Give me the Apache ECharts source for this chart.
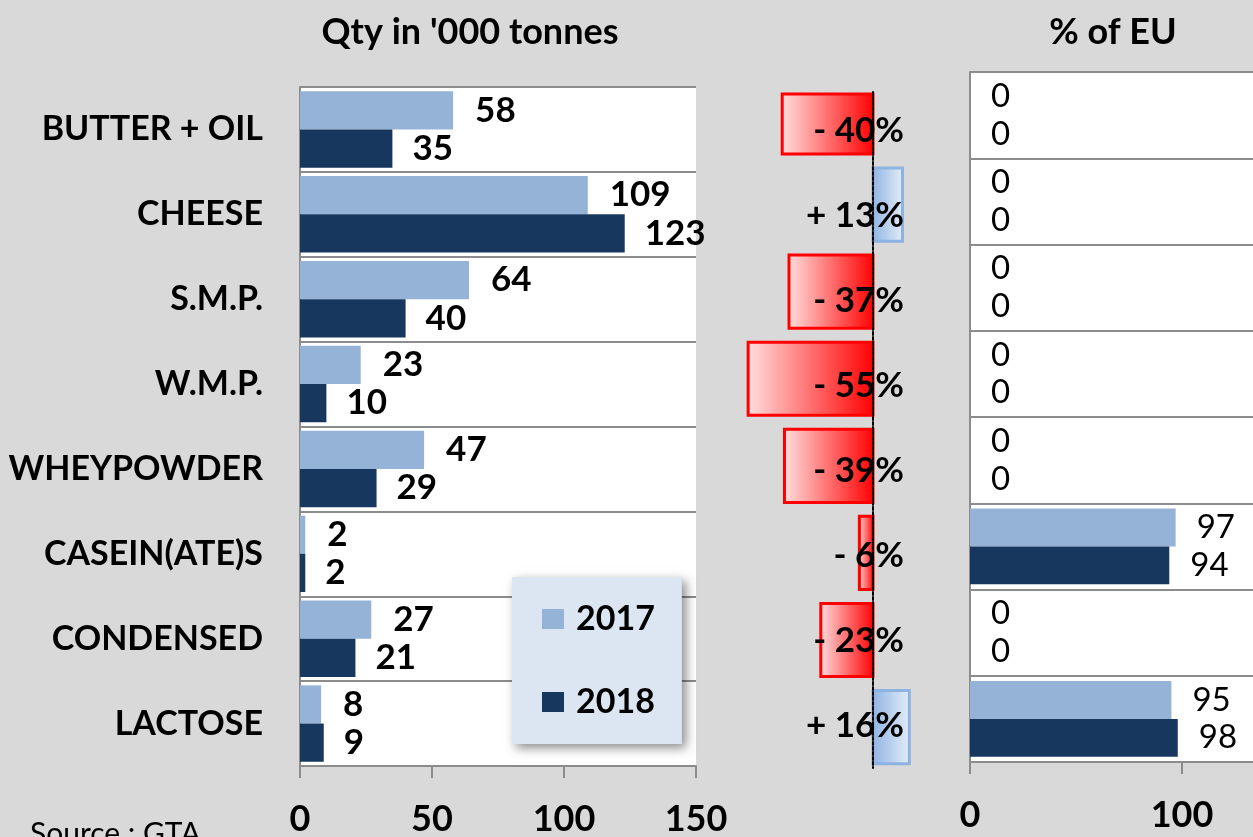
<!DOCTYPE html>
<html>
<head>
<meta charset="utf-8">
<script src="https://cdn.jsdelivr.net/npm/echarts@6/dist/echarts.min.js"></script>
<style>
html,body{margin:0;padding:0;background:#D9D9D9;}
#c{width:1253px;height:837px;}
</style>
</head>
<body>
<div id="c"></div>
<script>
const categories = ['BUTTER + OIL','CHEESE','S.M.P.','W.M.P.','WHEYPOWDER','CASEIN(ATE)S','CONDENSED','LACTOSE'];
const qty2017 = [58,109,64,23,47,2,27,8];
const qty2018 = [35,123,40,10,29,2,21,9];
const pctChange = [-40,13,-37,-55,-39,-6,-23,16];
const euShare2017 = [0,0,0,0,0,97,0,95];
const euShare2018 = [0,0,0,0,0,94,0,98];
const qtyTicks = [0,50,100,150];
const euTicks = [0,100];

const FONT = "Lato,'Open Sans',sans-serif";
const C17 = '#95B3D7', C18 = '#17375E', GRID = '#8C8C8C';

const chart = echarts.init(document.getElementById('c'));

function renderPctBar(params, api) {
  const idx = api.value(1), v = api.value(0);
  const p0 = api.coord([0, idx]), p1 = api.coord([v, idx]);
  const h = api.size([0, 1])[1] * 0.84;
  const cs = params.coordSys;
  const rect = echarts.graphic.clipRectByRect(
    {x: Math.min(p0[0], p1[0]), y: p0[1] - h / 2, width: Math.abs(p1[0] - p0[0]), height: h},
    {x: cs.x, y: cs.y + 2, width: cs.width, height: cs.height});
  if (!rect) return null;
  const neg = v < 0;
  const fill = neg
    ? new echarts.graphic.LinearGradient(0,0,1,0,[{offset:0,color:'#FFE0E0'},{offset:1,color:'#FF0000'}])
    : new echarts.graphic.LinearGradient(0,0,1,0,[{offset:0,color:'#8DB3E2'},{offset:1,color:'#E6EEF8'}]);
  return {type:'rect', shape: rect, style:{fill: fill, stroke: neg ? '#FF0000' : '#8DB3E2', lineWidth: 3}};
}

function renderPctLabel(params, api) {
  const idx = api.value(1), v = api.value(0);
  const p0 = api.coord([0, idx]);
  return {type:'text', x: p0[0] + 31, y: p0[1] + 1, z2: 5, style:{
    text: (v < 0 ? '- ' : '+ ') + Math.abs(v) + '%', align:'right', verticalAlign:'middle',
    font: 'bold 35px ' + FONT, fill:'#000'}};
}

const option = {
  backgroundColor: '#D9D9D9',
  animation: false,
  textStyle: {fontFamily: FONT},
  title: [
    {text: "Qty in '000 tonnes", left: 465, top: 9, textAlign: 'center',
     textStyle: {fontSize: 36, fontWeight: 'bold', color: '#000', fontFamily: FONT}},
    {text: '% of EU', left: 1108, top: 9, textAlign: 'center',
     textStyle: {fontSize: 36, fontWeight: 'bold', color: '#000', fontFamily: FONT}}
  ],
  legend: {
    data: ['2017','2018'], orient: 'vertical', left: 512, top: 577,
    itemWidth: 22, itemHeight: 20, itemGap: 49, icon: 'rect',
    padding: [25, 27, 25, 30],
    backgroundColor: '#DCE6F2', shadowBlur: 10, shadowColor: 'rgba(0,0,0,0.45)', shadowOffsetX: 4, shadowOffsetY: 4,
    textStyle: {fontSize: 34, fontWeight: 'bold', color: '#000', fontFamily: FONT, padding: [0,0,0,7]}
  },
  grid: [
    {left: 300, width: 396, top: 87, height: 680, show: true, backgroundColor: '#fff', borderWidth: 0},
    {left: 736.8, width: 181.6, top: 92, height: 676, show: false},
    {left: 970, width: 424, top: 72, height: 690, show: true, backgroundColor: '#fff', borderWidth: 0,
     outerBoundsMode: 'none'},
    {left: 736.8, width: 181.6, top: 87, height: 680, show: false}
  ],
  xAxis: [
    {gridIndex: 0, type: 'value', min: 0, max: 150, interval: 50,
     axisLine: {show: true, lineStyle: {color: GRID, width: 2}},
     axisTick: {show: true, length: 12, lineStyle: {color: GRID, width: 2}},
     splitLine: {show: false},
     axisLabel: {margin: 35, fontSize: 36, fontWeight: 'bold', color: '#000', fontFamily: FONT,
       formatter: v => qtyTicks.includes(v) ? String(v) : ''}},
    {gridIndex: 1, type: 'value', min: -60, max: 20, show: false},
    {gridIndex: 2, type: 'value', min: 0, max: 200, interval: 100,
     axisLine: {show: true, lineStyle: {color: GRID, width: 2}},
     axisTick: {show: true, length: 12, lineStyle: {color: GRID, width: 2}},
     splitLine: {show: false},
     axisLabel: {margin: 35, fontSize: 36, fontWeight: 'bold', color: '#000', fontFamily: FONT,
       formatter: v => euTicks.includes(v) ? String(v) : ''}},
    {gridIndex: 3, type: 'value', min: -60, max: 20, show: false}
  ],
  yAxis: [
    {gridIndex: 0, type: 'category', data: categories, inverse: true,
     axisLine: {show: true, lineStyle: {color: GRID, width: 2}},
     axisTick: {show: false},
     splitLine: {show: true, lineStyle: {color: GRID, width: 2}},
     axisLabel: {margin: 37, fontSize: 34, fontWeight: 'bold', color: '#000', fontFamily: FONT}},
    {gridIndex: 1, type: 'value', min: -0.293, max: 7.47, inverse: true, z: 10,
     axisLine: {show: true, onZero: true, lineStyle: {color: '#000', width: 2, type: [3, 2]}},
     axisTick: {show: false}, axisLabel: {show: false}, splitLine: {show: false}},
    {gridIndex: 2, type: 'category', data: categories, inverse: true,
     axisLine: {show: true, lineStyle: {color: GRID, width: 2}},
     axisTick: {show: false},
     splitLine: {show: true, lineStyle: {color: GRID, width: 2}},
     axisLabel: {show: false}},
    {gridIndex: 3, type: 'category', data: categories, inverse: true, show: false}
  ],
  series: [
    {name: '2017', type: 'bar', xAxisIndex: 0, yAxisIndex: 0, data: qty2017, barGap: '0%', barCategoryGap: '10%',
     itemStyle: {color: C17},
     label: {show: true, position: 'right', distance: 22, fontSize: 35, fontWeight: 'bold', color: '#000', fontFamily: FONT}},
    {name: '2018', type: 'bar', xAxisIndex: 0, yAxisIndex: 0, data: qty2018, barGap: '0%', barCategoryGap: '10%',
     itemStyle: {color: C18},
     label: {show: true, position: 'right', distance: 20, fontSize: 35, fontWeight: 'bold', color: '#000', fontFamily: FONT}},
    {name: 'change', type: 'custom', xAxisIndex: 1, yAxisIndex: 1,
     data: pctChange.map((v, i) => [v, i]), encode: {x: 0, y: 1}, renderItem: renderPctBar},
    {name: '2017', type: 'bar', xAxisIndex: 2, yAxisIndex: 2, data: euShare2017, barGap: '0%', barCategoryGap: '12%',
     itemStyle: {color: C17},
     label: {show: true, position: 'right', distance: 21, fontSize: 33, color: '#000', fontFamily: FONT}},
    {name: '2018', type: 'bar', xAxisIndex: 2, yAxisIndex: 2, data: euShare2018, barGap: '0%', barCategoryGap: '12%',
     itemStyle: {color: C18},
     label: {show: true, position: 'right', distance: 21, fontSize: 33, color: '#000', fontFamily: FONT}},
    {name: 'changeLabel', type: 'custom', xAxisIndex: 3, yAxisIndex: 3, z: 3,
     data: pctChange.map((v, i) => [v, i]), encode: {x: 0, y: 1}, renderItem: renderPctLabel}
  ],
  graphic: [
    {type: 'text', left: 30, top: 819, style: {text: 'Source : GTA', font: '30px ' + FONT, fill: '#000'}}
  ]
};
chart.setOption(option);
</script>
</body>
</html>
